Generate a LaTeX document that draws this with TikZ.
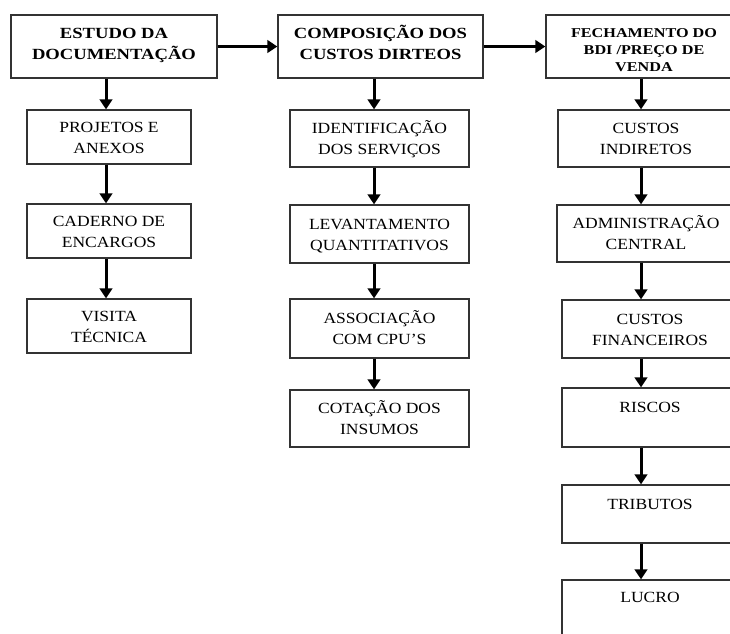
\documentclass[tikz,border=0pt]{standalone}
\usepackage{fontspec}
\setmainfont[FakeStretch=1.13, BoldFeatures={FakeStretch=1.2}]{Liberation Serif}
\usetikzlibrary{arrows.meta}
\begin{document}
\begin{tikzpicture}[x=1pt,y=-1pt,
  box/.style={draw=black!80, line width=1.3pt, fill=white, align=center,
    font=\fontsize{15.5}{21}\selectfont, inner sep=0pt,
    text height=32pt, text depth=0pt},
  one/.style={text height=11pt, text depth=21pt},
  head/.style={box, font=\fontsize{15.5}{21}\selectfont\bfseries,
    text height=32pt, text depth=7pt, minimum height=63pt},
  subA/.style={box, minimum width=164pt, minimum height=54pt},
  subB/.style={box, minimum width=179pt},
  subC/.style={box, minimum width=176pt},
  arr/.style={line width=3pt, -{Triangle[length=10pt,width=12.5pt]}},
]
\useasboundingbox (0,0) rectangle (730,633);
\clip (0,0) rectangle (730,633);
\fill[white] (0,0) rectangle (730,633);

% column 1
\node[head, minimum width=206pt] (estudo) at (114,46.5) {ESTUDO DA\\DOCUMENTAÇÃO};
\node[subA] (proj) at (109,137) {PROJETOS E\\ANEXOS};
\node[subA] (cad) at (109,231) {CADERNO DE\\ENCARGOS};
\node[subA] (vis) at (109,326) {VISITA\\TÉCNICA};

% column 2
\node[head, minimum width=205pt] (compos) at (380.5,46.5) {COMPOSIÇÃO DOS\\CUSTOS DIRTEOS};
\node[subB, minimum height=57pt] (ident) at (379.5,138.5) {IDENTIFICAÇÃO\\DOS SERVIÇOS};
\node[subB, minimum height=58pt] (lev) at (379.5,234) {LEVANTAMENTO\\QUANTITATIVOS};
\node[subB, minimum height=59pt] (assoc) at (379.5,328.5) {ASSOCIAÇÃO\\COM CPU’S};
\node[subB, minimum height=57pt] (cot) at (379.5,418.5) {COTAÇÃO DOS\\INSUMOS};

% column 3
\node[head, minimum width=196pt, font=\fontsize{13.5}{17}\selectfont\bfseries,
  text height=49pt, text depth=0pt] (fech) at (644,46.5) {FECHAMENTO DO\\BDI /PREÇO DE\\VENDA};
\node[subC, minimum height=57pt] (cind) at (646,138.5) {CUSTOS\\INDIRETOS};
\node[subC, minimum width=178pt, minimum height=57pt] (adm) at (646,233.5) {ADMINISTRAÇÃO\\CENTRAL};
\node[subC, minimum height=58pt] (cfin) at (650,329) {CUSTOS\\FINANCEIROS};
\node[subC, one, minimum height=59pt] (risc) at (650,417.5) {RISCOS};
\node[subC, one, minimum height=58pt] (trib) at (650,514) {TRIBUTOS};
\node[subC, one, minimum height=60pt, text depth=27pt] (lucro) at (650,610) {LUCRO};

% arrow columns
\coordinate (c1) at (106,0);
\coordinate (c2) at (374,0);
\coordinate (c3) at (641,0);

\draw[arr] (estudo.south -| c1) -- (proj.north -| c1);
\draw[arr] (proj.south -| c1) -- (cad.north -| c1);
\draw[arr] (cad.south -| c1) -- (vis.north -| c1);

\draw[arr] (compos.south -| c2) -- (ident.north -| c2);
\draw[arr] (ident.south -| c2) -- (lev.north -| c2);
\draw[arr] (lev.south -| c2) -- (assoc.north -| c2);
\draw[arr] (assoc.south -| c2) -- (cot.north -| c2);

\draw[arr] (fech.south -| c3) -- (cind.north -| c3);
\draw[arr] (cind.south -| c3) -- (adm.north -| c3);
\draw[arr] (adm.south -| c3) -- (cfin.north -| c3);
\draw[arr] (cfin.south -| c3) -- (risc.north -| c3);
\draw[arr] (risc.south -| c3) -- (trib.north -| c3);
\draw[arr] (trib.south -| c3) -- (lucro.north -| c3);

\draw[arr] (estudo.east) -- (compos.west);
\draw[arr] (compos.east) -- (fech.west);
\end{tikzpicture}
\end{document}
